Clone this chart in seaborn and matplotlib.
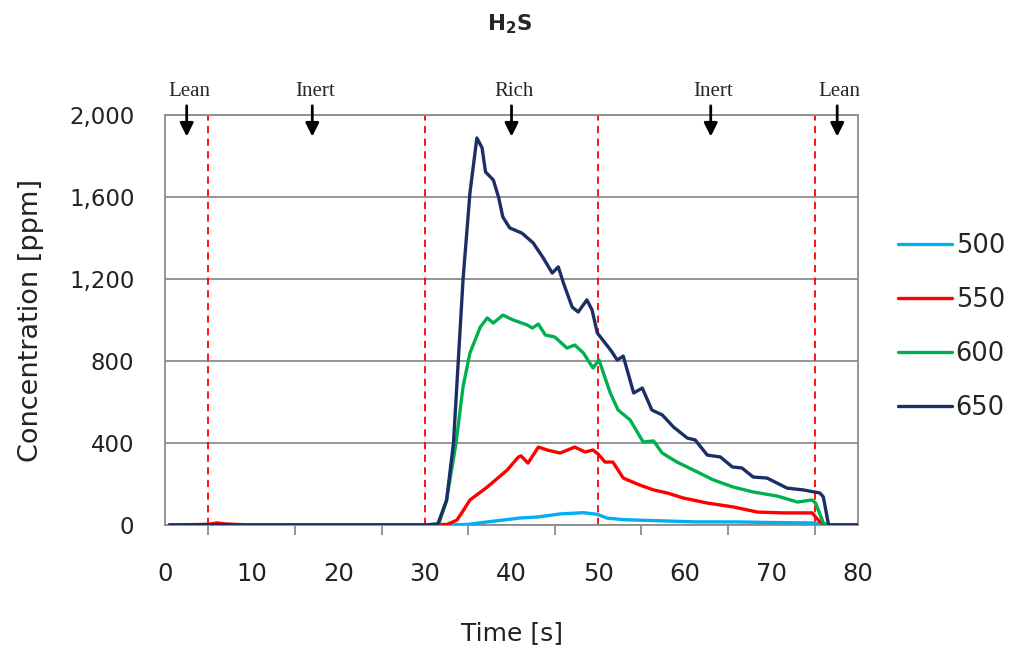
import matplotlib
matplotlib.use("Agg")
import matplotlib.pyplot as plt
import seaborn as sns
import pandas as pd
from matplotlib.ticker import FuncFormatter, MultipleLocator

# ---- data -------------------------------------------------------------
series_names = ["500", "550", "600", "650"]
series_colors = ["#00B0F0", "#FF0000", "#00B050", "#1C2E66"]

t_500 = [0.5, 10, 20, 30, 32.6, 35, 37.2, 41.0, 43.0, 45.6, 48.3, 49.9, 51.0, 52.9, 56, 61.4, 66, 70, 75.0, 75.8, 78, 80]
v_500 = [0, 0, 0, 0, 0, 3, 15, 34, 39, 54, 60, 52, 34, 26, 22, 15, 15, 12, 10, 0, 0, 0]

t_550 = [0.5, 5, 6, 7, 10, 20, 30, 32.6, 33.7, 34.5, 35.2, 37.2, 39.5, 40.8, 41.1, 41.9, 43.1, 44.1, 45.6, 47.3,
         48.5, 49.4, 50.0, 50.8, 51.7, 52.9, 54.8, 56.4, 58.0, 59.8, 62.6, 65.6, 68.4, 71.4, 74.7, 75.6, 76.3, 78, 80]
v_550 = [0, 3, 10, 5, 0, 0, 0, 3, 24, 75, 122, 185, 268, 332, 337, 302, 380, 366, 351, 380,
         356, 366, 346, 307, 307, 229, 195, 171, 156, 132, 107, 88, 63, 59, 59, 15, 0, 0, 0]

t_600 = [0.5, 10, 20, 30, 31.6, 32.5, 33.6, 34.4, 35.2, 36.4, 37.2, 37.9, 39.0, 40.2, 41.8, 42.4, 43.1, 43.9,
         45.0, 46.4, 47.3, 48.3, 49.4, 50.1, 51.4, 52.3, 53.7, 55.2, 56.4, 57.4, 59.1, 61.0, 63.3, 65.6,
         67.9, 70.7, 73.0, 74.7, 75.1, 76.0, 76.5, 78, 80]
v_600 = [0, 0, 0, 0, 5, 120, 400, 673, 839, 966, 1010, 985, 1024, 1000, 976, 961, 980, 927,
         917, 863, 878, 839, 766, 805, 644, 561, 512, 405, 410, 351, 307, 268, 220, 185,
         161, 141, 112, 122, 107, 10, 0, 0, 0]

t_650 = [0.5, 5, 10, 20, 30, 31.5, 32.5, 33.3, 34.4, 35.2, 36.0, 36.6, 37.0, 37.9, 38.5, 39.0, 39.8, 41.2,
         42.5, 43.6, 44.7, 45.4, 46.0, 47.0, 47.7, 48.7, 49.3, 49.9, 50.8, 51.5, 52.2, 52.9, 54.1, 55.1,
         56.2, 57.4, 58.7, 60.3, 61.2, 62.6, 64.1, 65.5, 66.6, 67.9, 69.5, 71.8, 73.7, 75.6, 76.0, 76.6, 78, 80]
v_650 = [0, 2, 0, 0, 0, 5, 120, 400, 1195, 1620, 1888, 1840, 1722, 1683, 1600, 1502, 1449, 1424,
         1376, 1307, 1229, 1259, 1180, 1063, 1039, 1098, 1049, 937, 888, 850, 805, 824, 644, 668,
         561, 537, 478, 424, 415, 341, 332, 283, 278, 234, 229, 180, 171, 156, 137, 0, 0, 0]

phase_labels = ["Lean", "Inert", "Rich", "Inert", "Lean"]
phase_pos = [2.5, 17.0, 40.0, 63.0, 77.6]
switch_times = [5, 30, 50, 75]

x_ticks = [0, 10, 20, 30, 40, 50, 60, 70, 80]
y_ticks = [0, 400, 800, 1200, 1600, 2000]

# ---- build table ------------------------------------------------------
frames = []
for name, t, v in zip(series_names, [t_500, t_550, t_600, t_650], [v_500, v_550, v_600, v_650]):
    frames.append(pd.DataFrame({"Time": t, "Conc": v, "Temp": name}))
df = pd.concat(frames, ignore_index=True)

# ---- style ------------------------------------------------------------
sns.set_style("white")
plt.rcParams["font.family"] = ["DejaVu Sans"]

fig = plt.figure(figsize=(10.1, 6.52), dpi=100)
ax = fig.add_axes([0.1634, 0.1948, 0.6861, 0.6288])

grid_col = "#8C8C8C"
txt_col = "#222222"
for y in y_ticks:
    ax.axhline(y, color=grid_col, lw=1.3, zorder=0)

for xs in switch_times:
    ax.axvline(xs, color="#FF0000", lw=1.3, ls=(0, (4, 3)), zorder=1)

sns.lineplot(data=df, x="Time", y="Conc", hue="Temp", hue_order=series_names,
             palette=dict(zip(series_names, series_colors)), estimator=None, sort=False,
             lw=2.4, ax=ax, zorder=3)

ax.set_xlim(0, 80)
ax.set_ylim(0, 2000)
ax.set_xticks(x_ticks)
ax.xaxis.set_minor_locator(MultipleLocator(5))
ax.set_yticks(y_ticks)
ax.yaxis.set_major_formatter(FuncFormatter(lambda v, p: f"{int(v):,}"))
for s in ax.spines.values():
    s.set_color(grid_col)
    s.set_linewidth(1.3)
ax.tick_params(axis="both", which="both", direction="out", length=7, width=1.3,
               color=grid_col, labelcolor=txt_col)
ax.tick_params(axis="y", labelsize=16.5, pad=15)
ax.tick_params(axis="x", labelsize=17.5, pad=20)
ax.tick_params(axis="x", which="minor", bottom=True)

ax.set_xlabel("Time [s]", fontsize=18, labelpad=25, color=txt_col)
ax.set_ylabel("Concentration [ppm]", fontsize=19.5, labelpad=18, color=txt_col)

fig.text(0.505, 0.963, r"H$_\mathbf{2}$S", ha="center", va="center",
         fontsize=15.5, fontweight="bold")

# phase annotations
for lab, pos in zip(phase_labels, phase_pos):
    ax.annotate("", xy=(pos, 1895), xytext=(pos, 2045), annotation_clip=False,
                arrowprops=dict(arrowstyle="-|>", color="black", lw=2, mutation_scale=20,
                                shrinkA=0, shrinkB=0))
    ax.text(pos + 0.3, 2115, lab, ha="center", va="center", fontsize=15,
            family="Liberation Serif", clip_on=False)

# legend
handles, labels = ax.get_legend_handles_labels()
ax.get_legend().remove()
fig.legend(handles, labels, loc="center left", bbox_to_anchor=(0.889, 0.499),
           frameon=False, fontsize=18.5, handlelength=2.1, handletextpad=0.15,
           labelspacing=1.09, borderpad=0, borderaxespad=0)

fig.savefig("out.png", dpi=100)
